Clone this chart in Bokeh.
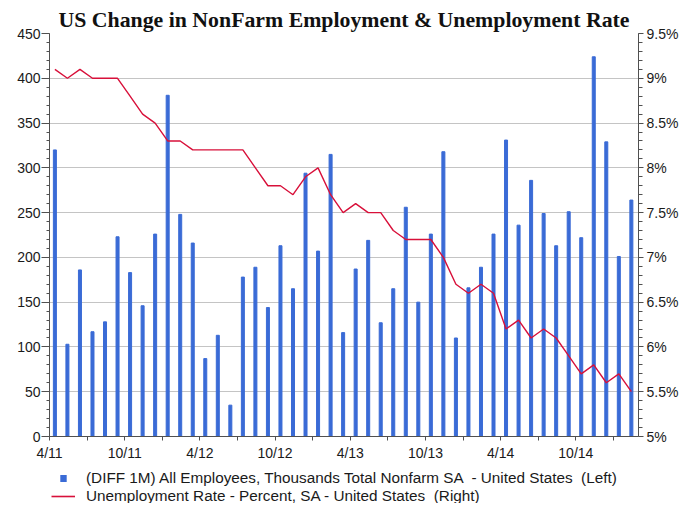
import math
from bokeh.plotting import figure
from bokeh.layouts import column
from bokeh.models import (Range1d, LinearAxis, FixedTicker, CustomJSTickFormatter,
                          Legend, LegendItem, ColumnDataSource)
from bokeh.embed import file_html
from bokeh.resources import INLINE

# ---- data ----
months = ["4/11", "5/11", "6/11", "7/11", "8/11", "9/11", "10/11", "11/11", "12/11",
          "1/12", "2/12", "3/12", "4/12", "5/12", "6/12", "7/12", "8/12", "9/12",
          "10/12", "11/12", "12/12", "1/13", "2/13", "3/13", "4/13", "5/13", "6/13",
          "7/13", "8/13", "9/13", "10/13", "11/13", "12/13", "1/14", "2/14", "3/14",
          "4/14", "5/14", "6/14", "7/14", "8/14", "9/14", "10/14", "11/14", "12/14",
          "1/15", "2/15"]
payrolls = [320, 103, 186, 117, 128, 223, 183, 146, 226,
            381, 248, 216, 87, 113, 35, 178, 189, 144,
            213, 165, 294, 207, 315, 116, 187, 219, 127,
            165, 256, 150, 226, 318, 110, 166, 189, 226,
            331, 236, 286, 249, 213, 251, 222, 424, 329,
            201, 264]
unemp = [9.1, 9.0, 9.1, 9.0, 9.0, 9.0, 8.8, 8.6, 8.5,
         8.3, 8.3, 8.2, 8.2, 8.2, 8.2, 8.2, 8.0, 7.8,
         7.8, 7.7, 7.9, 8.0, 7.7, 7.5, 7.6, 7.5, 7.5,
         7.3, 7.2, 7.2, 7.2, 7.0, 6.7, 6.6, 6.7, 6.6,
         6.2, 6.3, 6.1, 6.2, 6.1, 5.9, 5.7, 5.8, 5.6,
         5.7, 5.5]
x_tick_labels = ["4/11", "10/11", "4/12", "10/12", "4/13", "10/13", "4/14", "10/14"]
left_ticks = [0, 50, 100, 150, 200, 250, 300, 350, 400, 450]
right_ticks = [5.0, 5.5, 6.0, 6.5, 7.0, 7.5, 8.0, 8.5, 9.0, 9.5]

title_text = "US Change in NonFarm Employment & Unemployment Rate"
bar_label = "(DIFF 1M) All Employees, Thousands Total Nonfarm SA  - United States  (Left)"
line_label = "Unemployment Rate - Percent, SA - United States  (Right)"

# month index positions (bars sit a bit after the month tick)
xpos = [i + 0.43 for i in range(len(months))]
src = ColumnDataSource(dict(x=xpos, pay=payrolls, ur=unemp, m=months))

AX = "#505050"
TXT = "#1a1a1a"
FONT = "Liberation Sans"
BLUE = "#3a6bd6"
RED = "#d8103a"

p = figure(frame_width=589, frame_height=403, output_backend="svg", toolbar_location=None,
           x_range=Range1d(0, 47), y_range=Range1d(0, 450),
           min_border_left=49, min_border_right=44, min_border_top=33, min_border_bottom=24)
p.extra_y_ranges = {"ur": Range1d(5.0, 9.5)}
p.outline_line_color = None
p.background_fill_color = "white"
p.border_fill_color = "white"

p.title.text = title_text
p.title.text_font = "Liberation Serif"
p.title.text_font_style = "bold"
p.title.text_font_size = "21.8px"
p.title.text_color = "#111111"
p.title.align = "center"
p.title.standoff = 3
p.title.offset = 0

p.vbar(x="x", top="pay", width=0.24, source=src, color=BLUE)
p.line(x="x", y="ur", source=src, y_range_name="ur", line_color=RED, line_width=1.4)

# x axis
xa = p.xaxis[0]
major_x = [i * 6 for i in range(len(x_tick_labels))]
xa.ticker = FixedTicker(ticks=major_x, minor_ticks=[3 + 6 * i for i in range(8)])
xa.major_label_overrides = {t: lab for t, lab in zip(major_x, x_tick_labels)}
xa.major_tick_out = 4
xa.major_tick_in = 0
xa.minor_tick_out = 4
xa.minor_tick_in = 0
xa.axis_line_color = AX
xa.major_tick_line_color = AX
xa.minor_tick_line_color = AX
xa.major_label_text_font = FONT
xa.major_label_text_font_size = "14px"
xa.major_label_text_color = TXT
xa.major_label_standoff = 4

# left axis
ya = p.yaxis[0]
ya.ticker = FixedTicker(ticks=left_ticks, minor_ticks=list(range(0, 451, 10)))
ya.major_tick_out = 8
ya.major_tick_in = 0
ya.minor_tick_out = 3
ya.minor_tick_in = 0
ya.axis_line_color = AX
ya.major_tick_line_color = AX
ya.minor_tick_line_color = AX
ya.major_label_text_font = FONT
ya.major_label_text_font_size = "14px"
ya.major_label_text_color = TXT
ya.major_label_standoff = 1

# right axis
ra = LinearAxis(y_range_name="ur",
                ticker=FixedTicker(ticks=right_ticks,
                                   minor_ticks=[round(5 + 0.1 * i, 1) for i in range(46)]),
                formatter=CustomJSTickFormatter(code="return tick + '%';"))
ra.major_tick_out = 5
ra.major_tick_in = 0
ra.minor_tick_out = 4
ra.minor_tick_in = 0
ra.axis_line_color = AX
ra.major_tick_line_color = AX
ra.minor_tick_line_color = AX
ra.major_label_text_font = FONT
ra.major_label_text_font_size = "14px"
ra.major_label_text_color = TXT
ra.major_label_standoff = 3
p.add_layout(ra, "right")

p.xgrid.grid_line_color = None
p.ygrid.ticker = FixedTicker(ticks=left_ticks)
p.ygrid.grid_line_color = "#c4c4c4"
p.ygrid.grid_line_width = 1

# ---- legend strip (separate small figure below the chart) ----
lg = figure(frame_width=682, frame_height=40, output_backend="svg", toolbar_location=None,
            x_range=Range1d(0, 1), y_range=Range1d(0, 1),
            x_axis_type=None, y_axis_type=None,
            min_border_left=0, min_border_right=0, min_border_top=0, min_border_bottom=0)
lg.outline_line_color = None
lg.xgrid.grid_line_color = None
lg.ygrid.grid_line_color = None
# legend-only renderers, placed outside the visible range
offscreen = ColumnDataSource(dict(x=[-10, -11], y=[-10, -11]))
r_bar = lg.scatter(x="x", y="y", source=offscreen, marker="dash", angle=math.pi / 2,
                   size=10, line_width=7, line_color=BLUE)
r_line = lg.line(x="x", y="y", source=offscreen, line_color=RED, line_width=1.6)

legend = Legend(items=[LegendItem(label=bar_label, renderers=[r_bar]),
                       LegendItem(label=line_label, renderers=[r_line])],
                location=(51, -2), orientation="vertical")
legend.border_line_color = None
legend.background_fill_alpha = 0
legend.margin = 0
legend.padding = 3
legend.spacing = 0
legend.label_height = 16
legend.glyph_height = 16
legend.glyph_width = 24
legend.label_standoff = 11
legend.label_text_font = FONT
legend.label_text_font_size = "15.3px"
legend.label_text_color = TXT
lg.add_layout(legend, "center")

layout = column(p, lg, spacing=0)
open("out.html", "w").write(file_html(layout, INLINE))
